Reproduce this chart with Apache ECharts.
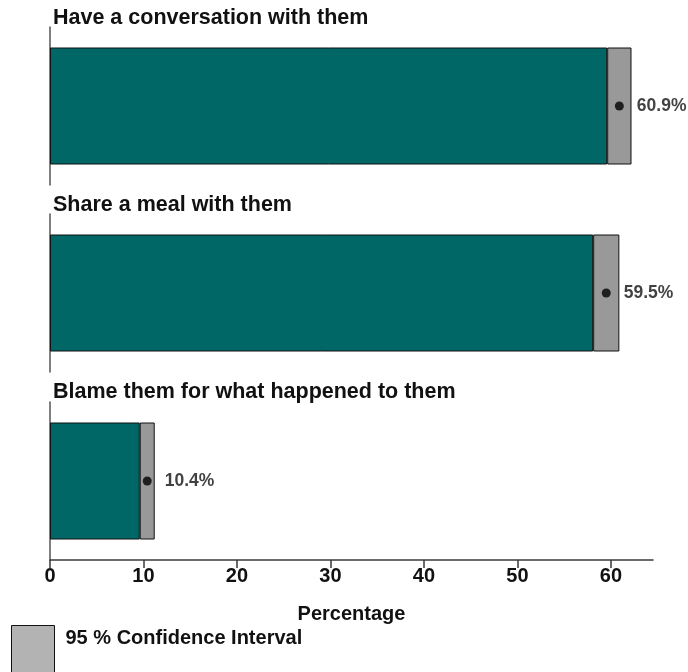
<!DOCTYPE html>
<html>
<head>
<meta charset="utf-8">
<script src="https://cdn.jsdelivr.net/npm/echarts@6/dist/echarts.min.js"></script>
<style>html,body{margin:0;padding:0;background:#fff}#c{width:688px;height:672px}</style>
</head>
<body>
<div id="c"></div>
<script>
var categories = ['Have a conversation with them', 'Share a meal with them', 'Blame them for what happened to them'];
var estimates = [60.9, 59.5, 10.4];
var ciLower = [59.6, 58.1, 9.6];
var ciUpper = [62.2, 60.9, 11.2];
var axisMin = 0, axisMax = 64.5, axisInterval = 10;
var axisTitle = 'Percentage';
var ciName = '95 % Confidence Interval';

var FONT = '"Liberation Sans", Arial, sans-serif';
var gridTops = [27, 214, 402];
var titleTops = [7, 194, 381];
var gridH = 158;
var grids = [], xAxes = [], yAxes = [], series = [], titles = [];

categories.forEach(function (cat, i) {
  grids.push({ left: 50, right: 35, top: gridTops[i], height: gridH, containLabel: false });
  titles.push({
    text: cat, left: 53, top: titleTops[i], padding: 0,
    textStyle: { fontFamily: FONT, fontSize: 21.5, fontWeight: 'bold', color: '#111' }
  });
  var last = i === categories.length - 1;
  xAxes.push({
    type: 'value', gridIndex: i, min: axisMin, max: axisMax, interval: axisInterval,
    show: last,
    splitLine: { show: false },
    axisLine: { show: true, lineStyle: { color: '#3a3a3a', width: 1.5 } },
    axisTick: { show: true, length: 8, lineStyle: { color: '#3a3a3a', width: 1.5 } },
    axisLabel: { showMaxLabel: false, fontFamily: FONT, fontSize: 20, fontWeight: 'bold', color: '#111', margin: 6 },
    name: last ? axisTitle : '', nameLocation: 'middle', nameGap: 44,
    nameTextStyle: { fontFamily: FONT, fontSize: 20, fontWeight: 'bold', color: '#111' }
  });
  yAxes.push({
    type: 'category', gridIndex: i, data: [cat],
    axisLine: { show: true, onZero: false, lineStyle: { color: '#555', width: 1.5 } },
    axisTick: { show: false }, axisLabel: { show: false }, splitLine: { show: false }
  });
  series.push({
    type: 'bar', name: 'Estimate', xAxisIndex: i, yAxisIndex: i, stack: 's' + i,
    barWidth: 117, data: [ciLower[i]],
    itemStyle: { color: '#006666', borderColor: '#111', borderWidth: 1 },
    silent: true
  });
  series.push({
    type: 'bar', name: ciName, xAxisIndex: i, yAxisIndex: i, stack: 's' + i,
    barWidth: 117, data: [+(ciUpper[i] - ciLower[i]).toFixed(2)],
    itemStyle: { color: '#999999', borderColor: '#111', borderWidth: 1 },
    silent: true
  });
  series.push({
    type: 'scatter', name: 'Point', xAxisIndex: i, yAxisIndex: i,
    symbol: 'circle', symbolSize: 9, z: 5,
    data: [[estimates[i], cat]],
    itemStyle: { color: '#000' },
    label: {
      show: true, position: 'right', distance: 13,
      formatter: function (p) { return p.value[0].toFixed(1) + '%'; },
      fontFamily: FONT, fontSize: 17.5, fontWeight: 'bold', color: '#111'
    }
  });
});

var chart = echarts.init(document.getElementById('c'), null, { renderer: 'canvas' });
chart.setOption({
  animation: false,
  backgroundColor: '#fff',
  title: titles,
  grid: grids,
  xAxis: xAxes,
  yAxis: yAxes,
  legend: {
    left: 11, top: 625, padding: 0, itemWidth: 43, itemHeight: 50,
    selectedMode: false,
    data: [{ name: ciName, icon: 'rect', itemStyle: { color: '#b3b3b3', borderColor: '#111', borderWidth: 1 } }],
    formatter: function (name) { return '{a|' + name + '}\n{b| }'; },
    textStyle: {
      fontFamily: FONT, fontSize: 20, fontWeight: 'bold', color: '#111',
      rich: {
        a: { fontFamily: FONT, fontSize: 20, fontWeight: 'bold', color: '#111', lineHeight: 22, padding: [0, 0, 0, 6] },
        b: { fontSize: 10, lineHeight: 24 }
      }
    }
  },
  series: series
});
</script>
</body>
</html>
